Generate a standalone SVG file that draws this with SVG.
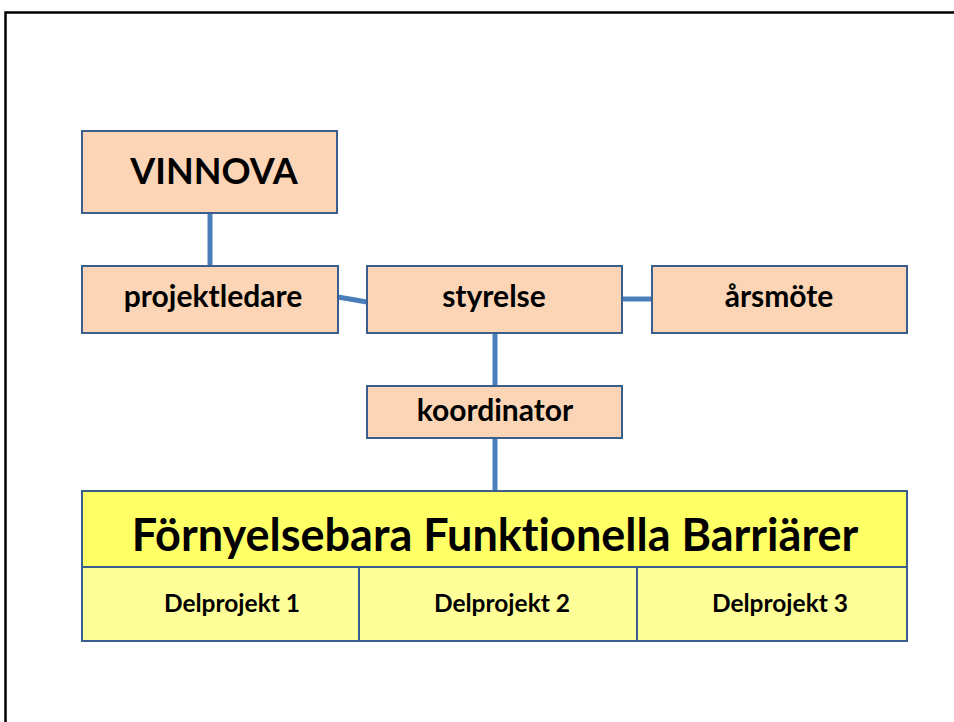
<svg xmlns="http://www.w3.org/2000/svg" width="954" height="722" viewBox="0 0 954 722">
<style>
.box{fill:#fbd5b5;stroke:#3a5f8e;stroke-width:2}
.hdr{fill:#ffff66;stroke:#3a5f8e;stroke-width:2}
.sub{fill:#ffff99;stroke:#3a5f8e;stroke-width:2}
.t{font-family:Lato,"Liberation Sans",sans-serif;font-weight:bold;fill:#000;text-anchor:middle;font-variant-ligatures:none}
.c{stroke:#4a7ebb;stroke-width:5;fill:none}
</style>
<rect x="0" y="0" width="954" height="722" fill="#fff"/>
<path d="M5.5 722 V12.5 H954" fill="none" stroke="#000" stroke-width="2.5"/>
<g id="connectors">
<line class="c" x1="210" y1="213" x2="210" y2="266"/>
<line class="c" x1="338" y1="297" x2="367" y2="302"/>
<line class="c" x1="622" y1="299" x2="652" y2="299"/>
<line class="c" x1="495" y1="333" x2="495" y2="386"/>
<line class="c" x1="495" y1="438" x2="495" y2="491"/>
</g>
<g id="vinnova"><rect class="box" x="82" y="131" width="255" height="82"/><text class="t" x="214" y="184" font-size="36">VINNOVA</text></g>
<g id="projektledare"><rect class="box" x="82" y="266" width="256" height="67"/><text class="t" x="213" y="307" font-size="30">projektledare</text></g>
<g id="styrelse"><rect class="box" x="367" y="266" width="255" height="67"/><text class="t" x="494" y="307" font-size="30">styrelse</text></g>
<g id="arsmote"><rect class="box" x="652" y="266" width="255" height="67"/><text class="t" x="779" y="307" font-size="30">årsmöte</text></g>
<g id="koordinator"><rect class="box" x="367" y="386" width="255" height="52"/><text class="t" x="495" y="421" font-size="30">koordinator</text></g>
<g id="barriarer">
<rect class="hdr" x="82" y="491" width="825" height="76"/>
<text class="t" x="495" y="551" font-size="45">Förnyelsebara Funktionella Barriärer</text>
</g>
<g id="delprojekt1"><rect class="sub" x="82" y="567" width="277" height="74"/><text class="t" x="232" y="612" font-size="24.5">Delprojekt 1</text></g>
<g id="delprojekt2"><rect class="sub" x="359" y="567" width="278" height="74"/><text class="t" x="502" y="612" font-size="24.5">Delprojekt 2</text></g>
<g id="delprojekt3"><rect class="sub" x="637" y="567" width="270" height="74"/><text class="t" x="780" y="612" font-size="24.5">Delprojekt 3</text></g>
</svg>
